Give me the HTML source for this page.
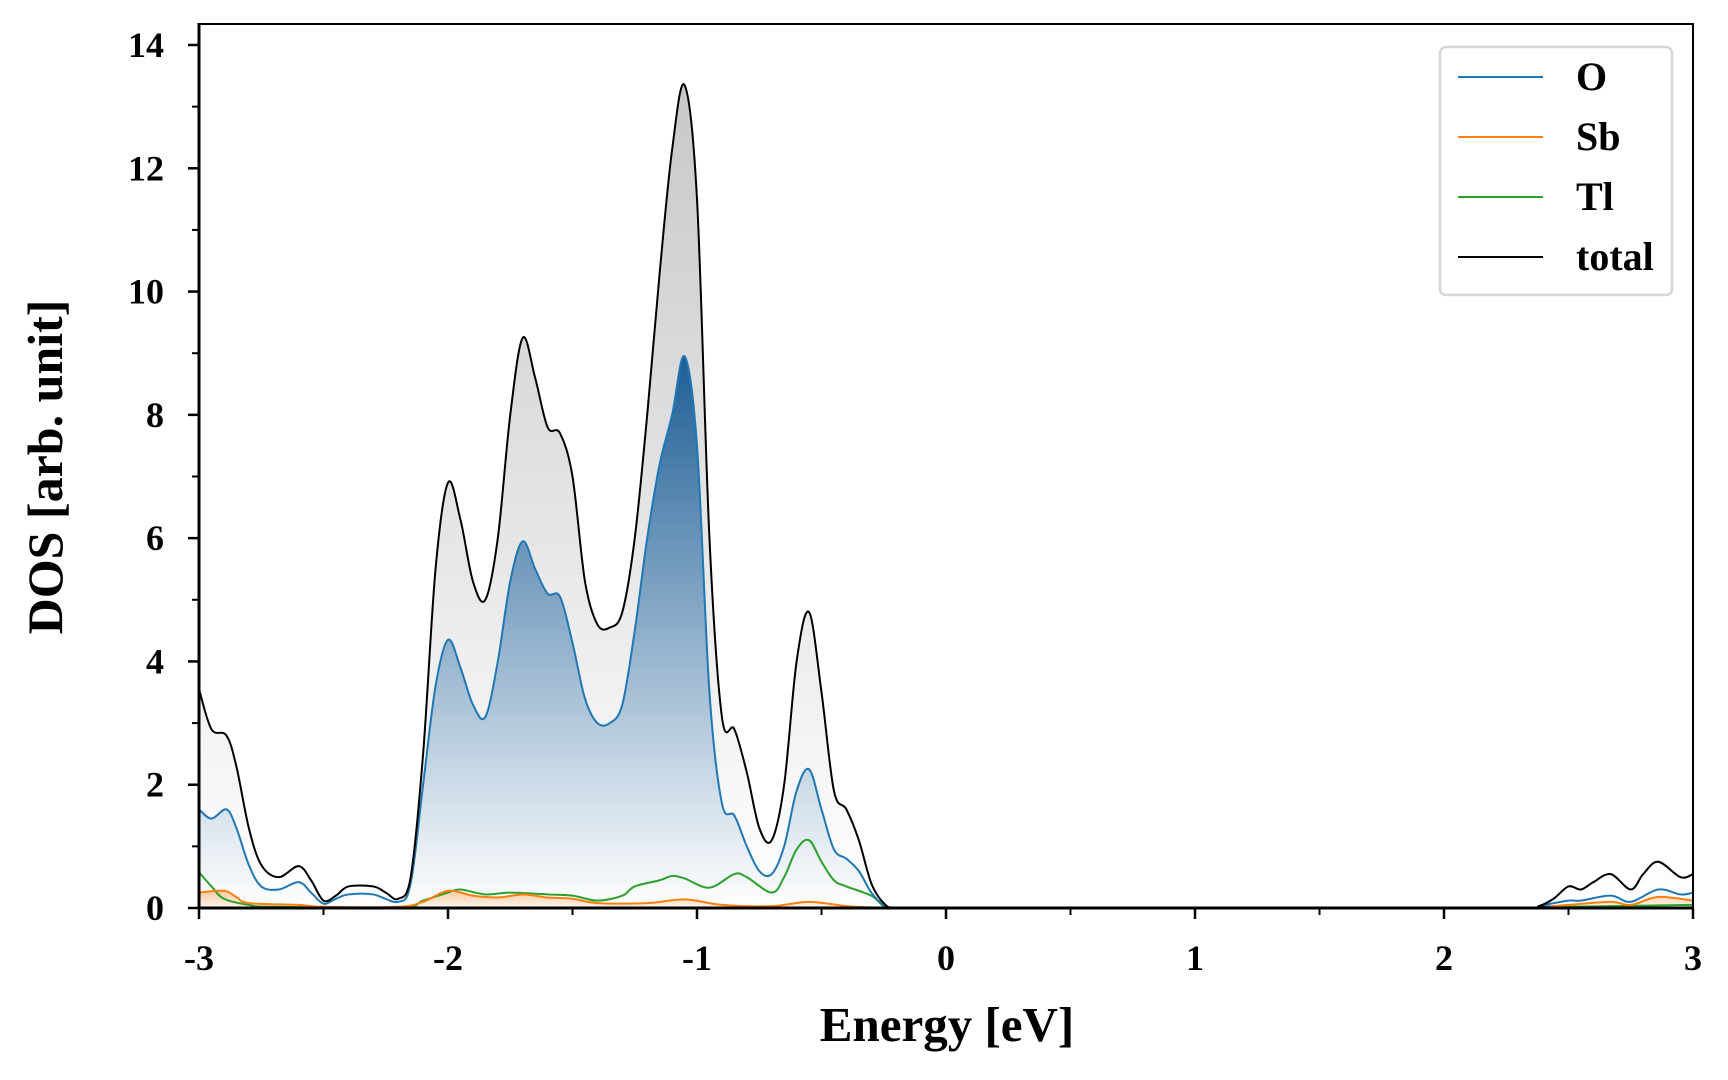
<!DOCTYPE html>
<html><head><meta charset="utf-8"><style>
html,body{margin:0;padding:0;background:#fff;}
svg{display:block;font-family:"Liberation Serif",serif;font-weight:bold;}
</style></head><body>
<svg id="chart" width="1728" height="1080" viewBox="0 0 1728 1080" xmlns="http://www.w3.org/2000/svg">
<defs>
<linearGradient id="gTot" gradientUnits="userSpaceOnUse" x1="0" y1="90" x2="0" y2="908"><stop offset="0" stop-color="#c8c8c8"/><stop offset="1" stop-color="#ffffff"/></linearGradient>
<linearGradient id="gO" gradientUnits="userSpaceOnUse" x1="0" y1="360" x2="0" y2="908"><stop offset="0" stop-color="#1f5f96"/><stop offset="1" stop-color="#ffffff"/></linearGradient>
<linearGradient id="gSb" gradientUnits="userSpaceOnUse" x1="0" y1="890" x2="0" y2="908"><stop offset="0" stop-color="#f7c9a0"/><stop offset="1" stop-color="#fff5ec"/></linearGradient>
<clipPath id="clip"><rect x="199" y="24" width="1494" height="884"/></clipPath>
</defs>
<g id="plot" clip-path="url(#clip)"></g>
<g id="axes"></g>
</svg>
<script>
const totalE=[-3,-2.95,-2.89,-2.85,-2.8,-2.75,-2.68,-2.6,-2.55,-2.5,-2.45,-2.4,-2.3,-2.25,-2.2,-2.15,-2.1,-2.05,-2,-1.95,-1.9,-1.85,-1.8,-1.75,-1.7,-1.65,-1.6,-1.55,-1.5,-1.45,-1.4,-1.35,-1.3,-1.25,-1.2,-1.15,-1.1,-1.05,-1,-0.95,-0.9,-0.85,-0.8,-0.75,-0.7,-0.65,-0.6,-0.55,-0.5,-0.45,-0.4,-0.35,-0.3,-0.25,-0.2,0,1,2.3,2.38,2.44,2.5,2.55,2.6,2.67,2.75,2.8,2.86,2.95,3];
const totalV=[3.55,2.9,2.8,2.3,1.3,0.7,0.5,0.68,0.45,0.12,0.2,0.35,0.35,0.25,0.15,0.5,2.5,5.5,6.9,6.3,5.3,5.0,6.0,8.0,9.25,8.6,7.8,7.7,7.0,5.3,4.6,4.55,4.8,6.0,8.0,10.3,12.3,13.35,11.5,6.0,3.1,2.9,2.2,1.3,1.1,2.0,4.0,4.8,3.5,1.9,1.6,1.1,0.4,0.08,0,0,0,0,0.03,0.15,0.35,0.3,0.42,0.55,0.3,0.55,0.75,0.5,0.55];
const oE=[-3,-2.95,-2.89,-2.85,-2.8,-2.75,-2.68,-2.6,-2.55,-2.5,-2.45,-2.4,-2.3,-2.2,-2.15,-2.1,-2.05,-2,-1.95,-1.9,-1.85,-1.8,-1.75,-1.7,-1.65,-1.6,-1.55,-1.5,-1.45,-1.4,-1.35,-1.3,-1.25,-1.2,-1.15,-1.1,-1.05,-1,-0.95,-0.9,-0.85,-0.8,-0.75,-0.7,-0.65,-0.6,-0.55,-0.5,-0.45,-0.4,-0.35,-0.3,-0.25,-0.2,0,1,2.3,2.4,2.5,2.55,2.67,2.75,2.86,2.95,3];
const oV=[1.6,1.45,1.6,1.3,0.7,0.35,0.3,0.42,0.25,0.07,0.15,0.22,0.22,0.1,0.4,2.0,3.6,4.35,3.9,3.3,3.1,4.0,5.3,5.95,5.5,5.1,5.05,4.3,3.4,3.0,3.0,3.3,4.5,6.0,7.2,8.0,8.95,7.5,3.5,1.7,1.5,1.0,0.6,0.55,1.0,1.9,2.25,1.6,0.95,0.8,0.6,0.25,0.05,0,0,0,0,0.05,0.12,0.12,0.2,0.1,0.3,0.22,0.25];
const sbE=[-3,-2.9,-2.85,-2.8,-2.6,-2.5,-2.2,-2.1,-2,-1.9,-1.8,-1.7,-1.6,-1.5,-1.4,-1.2,-1.05,-0.9,-0.7,-0.55,-0.4,-0.3,-0.2,0,1,2.3,2.4,2.5,2.67,2.75,2.86,3];
const sbV=[0.25,0.28,0.18,0.08,0.05,0.02,0.02,0.1,0.28,0.2,0.17,0.22,0.17,0.15,0.08,0.08,0.14,0.05,0.03,0.1,0.03,0.01,0,0,0,0,0.02,0.05,0.1,0.05,0.18,0.12];
const tlE=[-3,-2.95,-2.9,-2.8,-2.7,-2.2,-2.1,-2,-1.95,-1.85,-1.75,-1.6,-1.5,-1.4,-1.3,-1.25,-1.15,-1.1,-1.05,-0.95,-0.85,-0.8,-0.7,-0.65,-0.6,-0.55,-0.5,-0.45,-0.4,-0.3,-0.25,-0.2,0,1,2.3,2.5,3];
const tlV=[0.58,0.35,0.15,0.05,0.02,0,0.12,0.25,0.3,0.22,0.25,0.22,0.2,0.12,0.2,0.35,0.45,0.52,0.48,0.33,0.55,0.5,0.25,0.5,0.95,1.1,0.75,0.45,0.35,0.2,0.03,0,0,0,0,0.02,0.05];
const xTicks=[-3,-2,-1,0,1,2,3];
const yTicks=[0,2,4,6,8,10,12,14];
const legendLabels=["O","Sb","Tl","total"];

const X0=199,X1=1693,Y0=908,YT=45;
const sx=e=>X0+(e+3)/6*(X1-X0);
const sy=v=>Y0-v/14*(Y0-YT);
const NS="http://www.w3.org/2000/svg";
function mk(tag,attrs,parent){const el=document.createElementNS(NS,tag);for(const k in attrs)el.setAttribute(k,attrs[k]);parent.appendChild(el);return el;}
function curve(E,V){
  const p=E.map((e,i)=>[sx(e),sy(V[i])]);
  let d="M"+p[0][0]+","+p[0][1];
  for(let i=0;i<p.length-1;i++){
    const a=p[Math.max(0,i-1)],b=p[i],c=p[i+1],n=p[Math.min(p.length-1,i+2)];
    let c1y=b[1]+(c[1]-a[1])/6,c2y=c[1]-(n[1]-b[1])/6;
    c1y=Math.min(c1y,Y0); c2y=Math.min(c2y,Y0);
    d+=" C"+(b[0]+(c[0]-a[0])/6)+","+c1y+" "+(c[0]-(n[0]-b[0])/6)+","+c2y+" "+c[0]+","+c[1];
  }
  return d;
}
const plot=document.getElementById('plot'),axes=document.getElementById('axes');
const series=[[totalE,totalV,"url(#gTot)","#000","total"],[oE,oV,"url(#gO)","#1f77b4","o"],[sbE,sbV,"url(#gSb)","#ff7f0e","sb"],[tlE,tlV,"none","#2ca02c","tl"]];
series.forEach(s=>{
  const d=curve(s[0],s[1]);
  if(s[2]!=="none"){
    const f=mk('path',{d:d+" L"+sx(3)+","+Y0+" L"+sx(-3)+","+Y0+" Z",fill:s[2],stroke:"none"},plot);
    
    
  }
});
series.slice().reverse().forEach(s=>{
  const l=mk('path',{d:curve(s[0],s[1]),fill:"none",stroke:s[3],"stroke-width":2},plot);
  
  
});
const frame=mk('rect',{x:X0,y:24,width:X1-X0,height:Y0-24,fill:"none",stroke:"#000","stroke-width":2},axes);


mk('line',{x1:X0-1,y1:Y0,x2:X1+1,y2:Y0,stroke:"#000","stroke-width":3},axes);
mk('line',{x1:X0,y1:23,x2:X0,y2:Y0+1,stroke:"#000","stroke-width":3},axes);
xTicks.forEach(t=>{
  mk('line',{x1:sx(t),y1:Y0,x2:sx(t),y2:Y0+11,stroke:"#000","stroke-width":2.5},axes);
  const tx=mk('text',{x:sx(t),y:Y0+62,"text-anchor":"middle","font-size":36},axes);
  tx.textContent=String(t);
  
  
  if(t<3) mk('line',{x1:sx(t+0.5),y1:Y0,x2:sx(t+0.5),y2:Y0+7,stroke:"#000","stroke-width":2},axes);
});
yTicks.forEach(t=>{
  mk('line',{x1:X0,y1:sy(t),x2:X0-11,y2:sy(t),stroke:"#000","stroke-width":2.5},axes);
  const tx=mk('text',{x:X0-35,y:sy(t)+12,"text-anchor":"end","font-size":36},axes);
  tx.textContent=String(t);
  
  
  if(t<14) mk('line',{x1:X0,y1:sy(t+1),x2:X0-7,y2:sy(t+1),stroke:"#000","stroke-width":2},axes);
});
const xl=mk('text',{x:947,y:1041,"text-anchor":"middle","font-size":49},axes);
xl.textContent="Energy [eV]";


const yl=mk('text',{x:0,y:0,"text-anchor":"middle","font-size":50,transform:"translate(62,467) rotate(-90)"},axes);
yl.textContent="DOS [arb. unit]";


const lg=mk('g',{},axes);


mk('rect',{x:1440,y:47,width:232,height:248,rx:6,fill:"#fff","fill-opacity":0.9,stroke:"#d6d6d6","stroke-width":2.5},lg);
const lcol=["#1f77b4","#ff7f0e","#2ca02c","#000"];
legendLabels.forEach((lab,i)=>{
  const y=77+i*60;
  mk('line',{x1:1458,y1:y,x2:1543,y2:y,stroke:lcol[i],"stroke-width":2},lg);
  const t=mk('text',{x:1576,y:y+13,"font-size":40},lg);
  t.textContent=lab;
  
  
});
</script>
</body></html>
